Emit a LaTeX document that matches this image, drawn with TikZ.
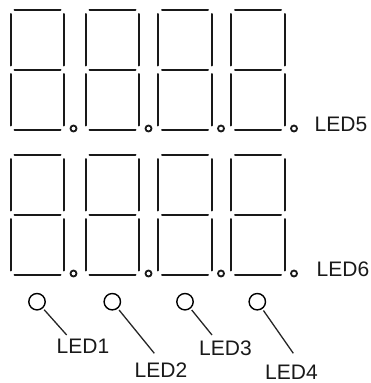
\documentclass[tikz,border=0pt]{standalone}
\usepackage{fontspec}
\setmainfont{Liberation Sans}
\tikzset{
  segment/.style={line width=2pt, line cap=round, black!90},
  led/.style={draw, circle, line width=1.4pt, minimum size=16.4pt, inner sep=0pt, outer sep=2.5pt},
  ledname/.style={inner sep=0pt, font=\fontsize{21}{21}\selectfont, text=black!90},
  wire/.style={line width=1.3pt, black!85}
}
\begin{document}
\begin{tikzpicture}[x=1pt, y=-1pt]
  \useasboundingbox (0,0) rectangle (371,383);

  % the two rows of digits
  \foreach \dy in {0,145} {
    \foreach \dx in {10.5,85.5,158,231} {
      \begin{scope}[shift={(\dx,\dy)}]
        \draw[segment] (4,9.5) -- (50,9.5);
        \draw[segment] (4,69.5) -- (50,69.5);
        \draw[segment] (4,129.5) -- (50,129.5);
        \draw[segment] (0,14) -- (0,65.5);
        \draw[segment] (53.5,14) -- (53.5,65.5);
        \draw[segment] (0,74) -- (0,125.5);
        \draw[segment] (53.5,74) -- (53.5,125.5);
        \draw[line width=1.8pt, black!90] (63,128.5) circle (3);
      \end{scope}
    }
  }

  % row names
  \node[ledname] (led5) at (341,124.5) {LED5};
  \node[ledname] (led6) at (343,269.5) {LED6};

  % single leds and their names
  \node[led] (a) at (37,301.7) {};
  \node[led] (b) at (112.3,301.7) {};
  \node[led] (c) at (185,301.7) {};
  \node[led] (d) at (257.3,301.7) {};

  \node[ledname] (led1) at (83,346.5) {LED1};
  \node[ledname] (led2) at (161,370.5) {LED2};
  \node[ledname] (led3) at (225.5,348.5) {LED3};
  \node[ledname] (led4) at (291.5,372.5) {LED4};

  \coordinate (a1) at (66.7,335);
  \coordinate (b1) at (154.3,353.3);
  \coordinate (c1) at (212,335);
  \coordinate (d1) at (293.3,353.3);

  \draw[wire] (a) -- (a1);
  \draw[wire] (b) -- (b1);
  \draw[wire] (c) -- (c1);
  \draw[wire] (d) -- (d1);
\end{tikzpicture}
\end{document}
